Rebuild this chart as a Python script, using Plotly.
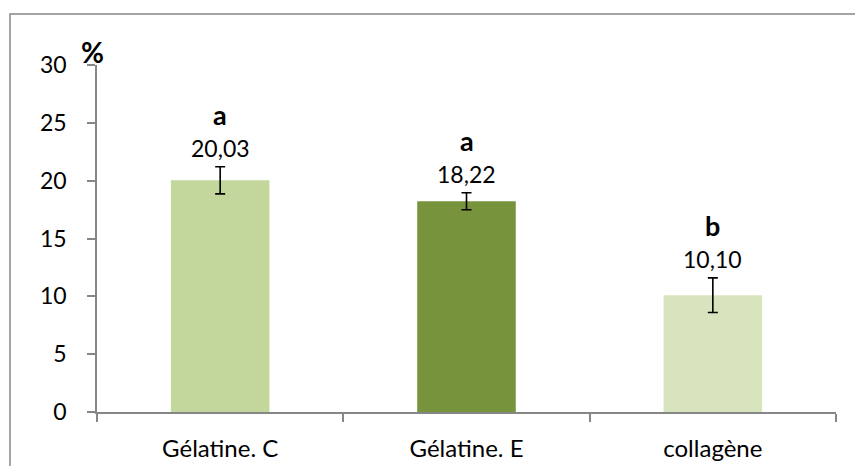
import plotly.graph_objects as go

# Data
categories = ["Gélatine. C", "Gélatine. E", "collagène"]
values = [20.03, 18.22, 10.10]
errors = [1.17, 0.73, 1.50]
groups = ["a", "a", "b"]
bar_colors = ["#C3D69B", "#77933C", "#D7E4BD"]
y_ticks = [0, 5, 10, 15, 20, 25, 30]

FONT = "Lato"
AXIS_GRAY = "#868686"

W, H = 855, 466
L, R, T, B = 97, 19, 65, 54
plot_w = W - L - R
plot_h = H - T - B

fig = go.Figure()
fig.add_trace(go.Bar(
    x=categories,
    y=values,
    marker=dict(color=bar_colors, line=dict(width=0)),
    width=0.40,
    error_y=dict(type="data", array=errors, visible=True,
                 color="black", thickness=1.6, width=5),
    hoverinfo="skip",
))

# value labels and significance letters above each error bar
for cat, v, e, g in zip(categories, values, errors, groups):
    top = v + e
    fig.add_annotation(x=cat, y=top, text=f"{v:.2f}".replace(".", ","),
                       showarrow=False, yanchor="middle", yshift=19,
                       font=dict(family=FONT, size=23, color="black"))
    fig.add_annotation(x=cat, y=top, text=f"<b>{g}</b>",
                       showarrow=False, yanchor="middle", yshift=52,
                       font=dict(family=FONT, size=27, color="black"))

# unit label above the y axis
fig.add_annotation(xref="paper", yref="paper",
                   x=(92 - L) / plot_w, y=(H - B - 52) / plot_h,
                   text="<b>%</b>", showarrow=False,
                   xanchor="center", yanchor="middle",
                   font=dict(family=FONT, size=28, color="black"))

# chart frame
fig.add_shape(type="rect", xref="paper", yref="paper",
              x0=(10 - L) / plot_w, x1=1.2,
              y0=-0.5, y1=(H - B - 14) / plot_h,
              line=dict(color=AXIS_GRAY, width=1.5),
              fillcolor="rgba(0,0,0,0)", layer="below")

fig.update_layout(
    width=W, height=H,
    margin=dict(l=L, r=R, t=T, b=B, pad=0, autoexpand=False),
    paper_bgcolor="white", plot_bgcolor="white",
    showlegend=False,
    font=dict(family=FONT, size=23, color="black"),
    bargap=0.6,
)
fig.update_xaxes(
    type="category", tickson="boundaries", automargin=False,
    showline=True, linecolor=AXIS_GRAY, linewidth=1.5,
    ticks="outside", ticklen=8, tickcolor=AXIS_GRAY, tickwidth=1.5,
    showgrid=False, zeroline=False,
    tickfont=dict(family=FONT, size=24, color="black"),
    ticklabelstandoff=14,
)
fig.update_yaxes(
    range=[0, 30], tickvals=y_ticks, automargin=False,
    showline=True, linecolor=AXIS_GRAY, linewidth=1.5,
    ticks="outside", ticklen=8, tickcolor=AXIS_GRAY, tickwidth=1.5,
    showgrid=False, zeroline=False,
    tickfont=dict(family=FONT, size=23, color="black"),
    ticklabelstandoff=16,
)

fig.write_html("out.html")
